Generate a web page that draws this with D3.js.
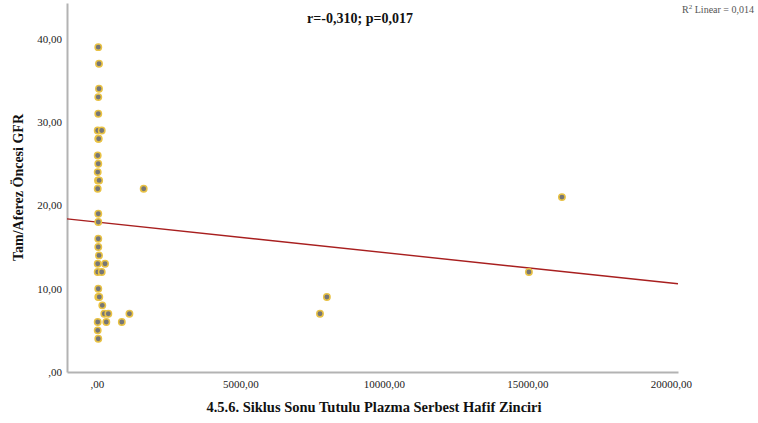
<!DOCTYPE html>
<html lang="tr">
<head>
<meta charset="UTF-8">
<title>Tam/Aferez Öncesi GFR</title>
<script src="https://d3js.org/d3.v7.min.js"></script>
<style>
  body { margin: 0; background: #fff; font-family: "Liberation Serif", "Times New Roman", serif; }
  .tick text { font-size: 11px; fill: #222; font-family: "Liberation Serif", serif; }
  .axis .domain { stroke: #b3b3b3; stroke-width: 2; }
  .axis .tick line { display: none; }
</style>
</head>
<body>
<div id="chart"></div>
<script>
// points
const flcValues = [45, 70, 70, 45, 45, 25, 165, 45, 60, 25, 45, 25, 35, 75, 25, 1627,
  45, 45, 45, 45, 70, 25, 280, 25, 165, 45, 45, 80, 185, 255, 395, 1130, 7770,
  25, 325, 865, 25, 45, 15050, 16200, 8010];
const gfrValues = [39, 37, 34, 33, 31, 29, 29, 28, 28, 26, 25, 24, 23, 23, 22, 22,
  19, 18, 16, 15, 14, 13, 13, 12, 12, 10, 9, 9, 8, 7, 7, 7, 7,
  6, 6, 6, 5, 4, 12, 21, 9];
const xTicks = [0, 5000, 10000, 15000, 20000];
const yTicks = [0, 10, 20, 30, 40];
// fit line as drawn
const fitIntercept = 18.0;
const fitSlope = -0.000366;

const W = 758, H = 423;
const plotL = 67, plotR = 678, plotT = 3, plotB = 372;

const svg = d3.select("#chart").append("svg")
  .attr("width", W).attr("height", H);

const x = d3.scaleLinear().domain([-1045, 20244]).range([plotL, plotR]);
const y = d3.scaleLinear().domain([0, 44.3]).range([plotB, plotT]);

const fmt = v => v === 0 ? ",00" : d3.format(".2f")(v).replace(".", ",");

svg.append("g")
  .attr("class", "axis")
  .attr("transform", "translate(0," + plotB + ")")
  .call(d3.axisBottom(x).tickValues(xTicks).tickFormat(fmt).tickSize(0).tickPadding(8).tickSizeOuter(0));

svg.append("g")
  .attr("class", "axis")
  .attr("transform", "translate(" + plotL + ",0)")
  .call(d3.axisLeft(y).tickValues(yTicks).tickFormat(fmt).tickSize(0).tickPadding(5).tickSizeOuter(0));

// regression line
const xd = x.domain();
svg.append("line")
  .attr("x1", x(xd[0])).attr("y1", y(fitIntercept + fitSlope * xd[0]))
  .attr("x2", x(xd[1])).attr("y2", y(fitIntercept + fitSlope * xd[1]))
  .attr("stroke", "#a81f1f").attr("stroke-width", 1.4);

// dots
const data = flcValues.map((v, i) => ({ fx: v, gy: gfrValues[i] }));
svg.selectAll(".dot")
  .data(data)
  .enter().append("circle")
  .attr("class", "dot")
  .attr("cx", d => x(d.fx))
  .attr("cy", d => y(d.gy))
  .attr("r", 3.2)
  .attr("fill", "#767676")
  .attr("stroke", "#e9c244")
  .attr("stroke-width", 1.5);

// titles
svg.append("text")
  .attr("x", 374).attr("y", 412)
  .attr("text-anchor", "middle")
  .style("font-size", "14.5px").style("font-weight", "bold").attr("fill", "#111")
  .text("4.5.6. Siklus Sonu Tutulu Plazma Serbest Hafif Zinciri");

svg.append("text")
  .attr("transform", "translate(23," + ((plotT + plotB) / 2) + ") rotate(-90)")
  .attr("text-anchor", "middle")
  .style("font-size", "14px").style("font-weight", "bold").attr("fill", "#111")
  .text("Tam/Aferez Öncesi GFR");

svg.append("text")
  .attr("x", 360).attr("y", 23)
  .attr("text-anchor", "middle")
  .style("font-size", "14px").style("font-weight", "bold").attr("fill", "#111")
  .text("r=-0,310; p=0,017");

const r2 = svg.append("text")
  .attr("x", 754).attr("y", 13)
  .attr("text-anchor", "end")
  .style("font-size", "10px").attr("fill", "#555");
r2.append("tspan").text("R");
r2.append("tspan").attr("dy", -4).style("font-size", "7px").text("2");
r2.append("tspan").attr("dy", 4).text(" Linear = 0,014");
</script>
</body>
</html>
